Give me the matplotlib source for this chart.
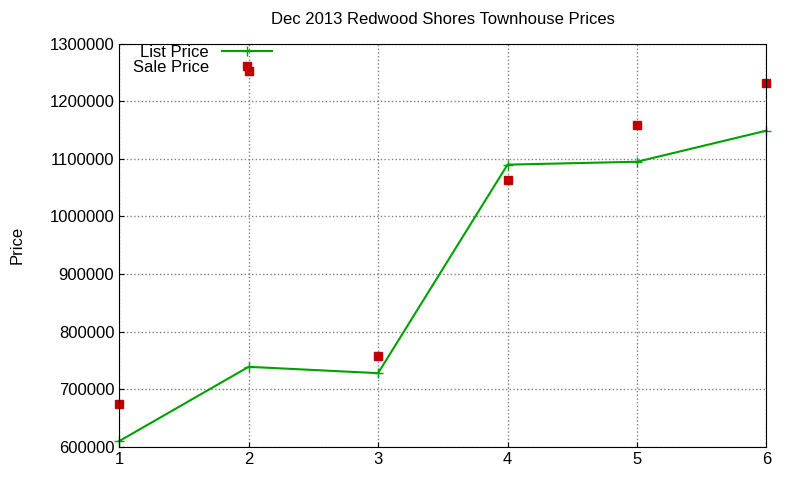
import matplotlib
matplotlib.use('Agg')
import matplotlib.pyplot as plt

plt.rcParams['font.family'] = ['Liberation Sans', 'DejaVu Sans']
plt.rcParams['legend.numpoints'] = 1

x = [1, 2, 3, 4, 5, 6]
list_price = [610000, 739000, 728000, 1090000, 1095000, 1149000]
sale_price = [675000, 1253000, 758000, 1064000, 1158000, 1232000]

fig = plt.figure(figsize=(8, 4.8), dpi=100)
ax = fig.add_axes([0.149, 0.069, 0.809, 0.84])
ax.plot(x, list_price, color='#00a000', marker='+', markersize=7, linewidth=1.5,
        label='List Price', clip_on=False)
ax.plot(x, sale_price, color='#c00000', marker='s', markersize=6, linestyle='none',
        label='Sale Price', clip_on=False)
ax.set_xlim(1, 6)
ax.set_ylim(600000, 1300000)
ax.set_yticks(range(600000, 1300001, 100000))
ax.ticklabel_format(style='plain', axis='y')
ax.grid(True, color='#808080', linestyle=':', linewidth=1)
ax.tick_params(direction='in', labelsize=12)
ax.set_ylabel('Price', fontsize=12, labelpad=18)
ax.set_title('Dec 2013 Redwood Shores Townhouse Prices', fontsize=12, pad=14)
ax.legend(loc='upper left', markerfirst=False, frameon=False, fontsize=12,
          bbox_to_anchor=(0.0, 1.03), handlelength=3, borderpad=0.3,
          labelspacing=0.0)
fig.savefig('out.png')
